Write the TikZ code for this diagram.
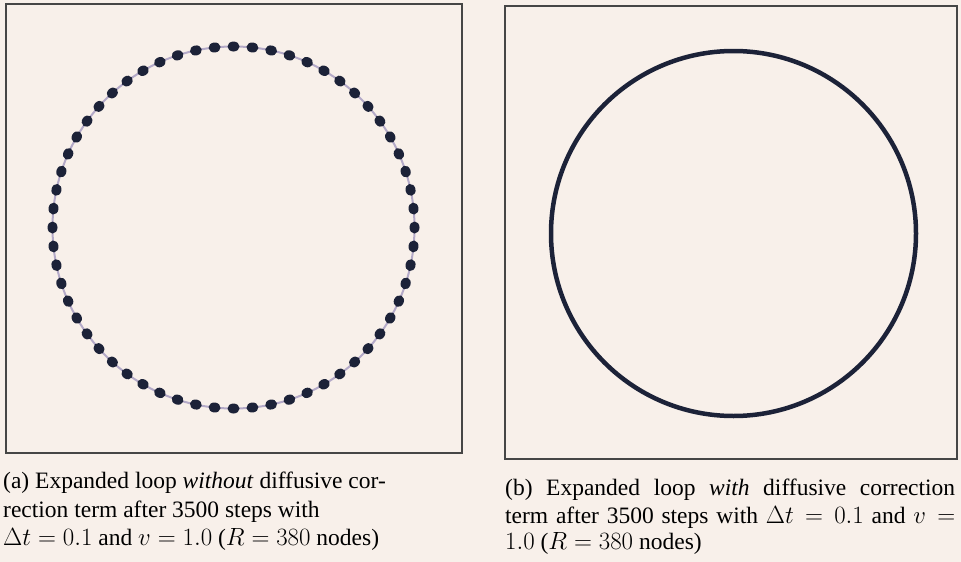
\documentclass[tikz,border=0pt]{standalone}
\usepackage{fontspec}
\setmainfont{Liberation Serif}
\definecolor{paper}{RGB}{248,240,234}
\definecolor{framec}{RGB}{70,70,70}
\definecolor{dotc}{RGB}{28,34,56}
\definecolor{linkc}{RGB}{180,170,200}
\tikzset{
  frame/.style={draw=framec, line width=1.2pt},
  capline/.style={anchor=base west, inner sep=0pt, font=\fontsize{23.5}{29}\selectfont},
  dotmark/.style={fill=dotc},
}
\begin{document}
\begin{tikzpicture}[x=1pt,y=-1pt]
\useasboundingbox (0,0) rectangle (961,562);
\fill[paper] (0,0) rectangle (961,562);
% frames
\draw[frame] (6,4) rectangle (462,453);
\draw[frame] (505,6) rectangle (957,459);
% left loop: dots on a thin line
\draw[linkc, line width=2pt] (233.5,227.5) circle [radius=181];
\foreach \i in {0,...,59}{
  \pgfmathsetmacro{\a}{90+6*\i}
  \fill[dotmark, shift={(233.5,227.5)}, rotate=\a] (181,0) ellipse [x radius=5, y radius=6];
}
% right loop
\draw[dotc, line width=4.5pt] (733.5,233.5) circle [radius=182.5];
% captions
\node[capline] (a1) at (3,488) {(a) Expanded loop \textit{without} diffusive cor-};
\node[capline] (a2) at (3,517) {rection term after 3500 steps with};
\node[capline] (a3) at (3,545) {$\Delta t = 0.1$ and $v = 1.0$ ($R = 380$ nodes)};
\node[capline] (b1) at (505,495) {\makebox[450pt][s]{(b) Expanded loop \textit{with} diffusive correction}};
\node[capline] (b2) at (505,523) {\makebox[450pt][s]{term after 3500 steps with $\Delta t = 0.1$ and $v =$}};
\node[capline] (b3) at (505,549) {$1.0$ ($R = 380$ nodes)};
\end{tikzpicture}
\end{document}
